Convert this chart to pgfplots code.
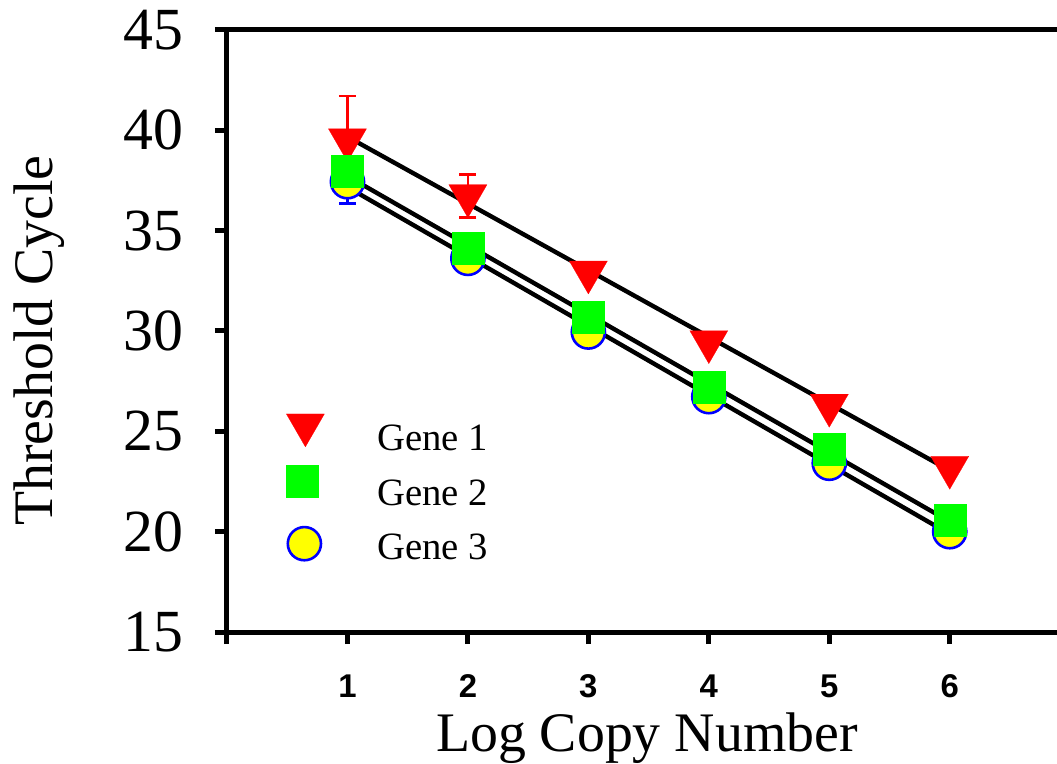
\documentclass[border=0pt]{standalone}
\usepackage{fontspec}
\setmainfont{Liberation Serif}
\newfontfamily\arialf{Liberation Sans}
\usepackage{pgfplots}
\pgfplotsset{compat=1.18}
\definecolor{cRed}{RGB}{255,0,0}
\definecolor{cGreen}{RGB}{0,255,0}
\definecolor{cYellow}{RGB}{255,255,0}
\definecolor{cBlue}{RGB}{0,0,255}
\tikzset{
  mA/.style={mark=triangle*, mark size=11bp, mark options={rotate=180, fill=cRed, draw=cRed, line width=0.1bp}},
  mB/.style={mark=square*, mark size=8bp, mark options={fill=cGreen, draw=cGreen, line width=0.1bp}},
  mC/.style={mark=*, mark size=8.3bp, mark options={fill=cYellow, draw=cBlue, line width=1.3bp}},
}
\pgfplotsset{
  legA/.style={legend image code/.code={\path[draw=none, fill=none] (-10bp,0bp) rectangle (30bp,1bp); \draw[overlay, only marks, mA] plot coordinates {(0.5bp,7.35bp)};}},
  legB/.style={legend image code/.code={\path[draw=none, fill=none] (-10bp,0bp) rectangle (30bp,1bp); \draw[overlay, only marks, mB] plot coordinates {(-1bp,6.35bp)};}},
  legC/.style={legend image code/.code={\path[draw=none, fill=none] (-10bp,0bp) rectangle (30bp,1bp); \draw[overlay, only marks, mC] plot coordinates {(0bp,2.35bp)};}},
}
\begin{document}
\begin{tikzpicture}
\begin{axis}[
  at={(0,0)}, anchor=south west,
  scale only axis, width=421.6bp, height=301bp,
  xmin=0, xmax=7, ymin=15, ymax=45,
  xtick={0,1,2,3,4,5,6}, xticklabels={,1,2,3,4,5,6},
  ytick={15,20,...,45},
  tick align=outside, tick pos=left,
  major tick length=6bp,
  every tick/.style={black, line width=2.5bp},
  axis line style={line width=2.5bp},
  /pgf/number format/assume math mode=true,
  yticklabel style={font=\fontsize{30}{30}\selectfont, inner sep=0pt, anchor=east, xshift=-15.5bp},
  xticklabel style={font=\arialf\bfseries\fontsize{16.5}{16.5}\selectfont, inner sep=0pt, anchor=north, yshift=-15bp},
  xlabel={Log Copy Number}, ylabel={Threshold Cycle},
  label style={font=\fontsize{28}{28}\selectfont, inner sep=0pt},
  xlabel style={at={(axis description cs:0.498,-0.1993)}, anchor=base},
  ylabel style={at={(axis description cs:-0.2065,0.484)}, anchor=base},
  legend cell align=left,
  legend style={at={(axis description cs:0.0676,0.344)}, anchor=north west, draw=none, fill=none, inner sep=0pt,
    row sep=12.9bp, column sep=6.5bp, nodes={inner sep=0pt},
    font=\fontsize{19.4}{19.4}\selectfont},
]
\addlegendimage{legA}
\addlegendentry{Gene 1}
\addlegendimage{legB}
\addlegendentry{Gene 2}
\addlegendimage{legC}
\addlegendentry{Gene 3}
% regression lines
\addplot[black, line width=2.2bp, forget plot] coordinates {(1,39.68) (6,23.05)};
\addplot[black, line width=2.2bp, forget plot] coordinates {(1,37.72) (6,20.50)};
\addplot[black, line width=2.2bp, forget plot] coordinates {(1,37.17) (6,19.88)};
% error bars
\addplot[only marks, mark=none, cRed, forget plot, error bars/.cd, y dir=both, y explicit,
  error bar style={line width=1.3bp, cRed}, error mark options={rotate=90, mark size=4.25bp, line width=1.3bp, cRed}]
  coordinates {(1,39.53) +- (0,2.18) (2,36.74) +- (0,1.07)};
\addplot[only marks, mark=none, cBlue, forget plot, error bars/.cd, y dir=both, y explicit,
  error bar style={line width=1.3bp, cBlue}, error mark options={rotate=90, mark size=4.25bp, line width=1.3bp, cBlue}]
  coordinates {(1,37.44) +- (0,1.08)};
% data
\addplot[only marks, mC, forget plot] coordinates {(1,37.44) (2,33.62) (3,29.95) (4,26.73) (5,23.41) (6,20.0)};
\addplot[only marks, mA, forget plot] coordinates {(1,39.53) (2,36.74) (3,32.94) (4,29.47) (5,26.3) (6,23.21)};
\addplot[only marks, mB, forget plot] coordinates {(1,37.97) (2,34.13) (3,30.67) (4,27.2) (5,24.09) (6,20.59)};
\end{axis}
\pgfresetboundingbox
\path[use as bounding box] (-113.5bp,-66bp) rectangle (415bp,316bp);
\end{tikzpicture}
\end{document}
